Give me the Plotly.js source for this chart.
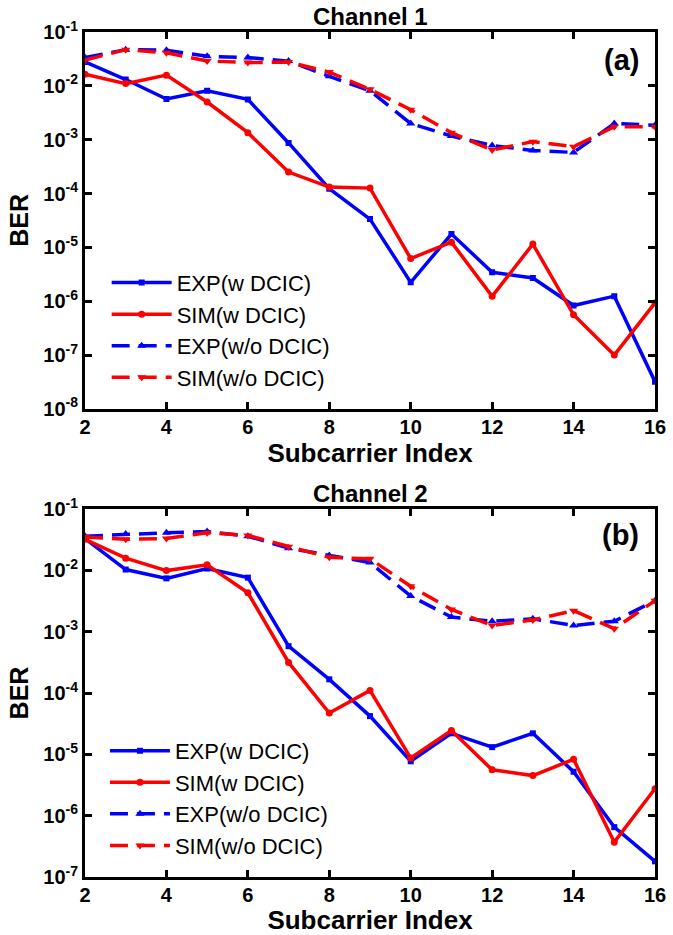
<!DOCTYPE html>
<html>
<head>
<meta charset="utf-8">
<script src="https://cdn.plot.ly/plotly-3.0.1.min.js"></script>
<style>html,body{margin:0;padding:0;background:#fff;}#chart{width:673px;height:935px;}</style>
</head>
<body>
<div id="chart"></div>
<script>
// Subcarrier index
const subcarriers = [2,3,4,5,6,7,8,9,10,11,12,13,14,15,16];

// Channel 1
const ch1_exp_w  = [0.0278,0.0131,0.0057,0.0081,0.0056,8.7e-4,1.23e-4,3.35e-5,2.24e-6,1.77e-5,3.45e-6,2.7e-6,8.3e-7,1.24e-6,3.2e-8];
const ch1_sim_w  = [0.0165,0.011,0.0158,0.005,1.35e-3,2.5e-4,1.32e-4,1.26e-4,6.2e-6,1.25e-5,1.23e-6,1.15e-5,5.6e-7,1.0e-7,9.3e-7];
const ch1_exp_wo = [0.0335,0.047,0.046,0.0354,0.0335,0.0288,0.015,0.0081,2.0e-3,1.17e-3,7.8e-4,6.3e-4,5.8e-4,2.0e-3,1.85e-3];
const ch1_sim_wo = [0.030,0.047,0.041,0.029,0.027,0.0277,0.018,0.0086,3.6e-3,1.35e-3,6.4e-4,9.2e-4,7.4e-4,1.74e-3,1.74e-3];

// Channel 2
const ch2_exp_w  = [0.033,0.0103,0.0074,0.0107,0.0076,5.8e-4,1.67e-4,4.2e-5,7.7e-6,2.2e-5,1.31e-5,2.2e-5,5.2e-6,6.5e-7,1.8e-7];
const ch2_sim_w  = [0.032,0.0158,0.0099,0.0123,4.3e-3,3.15e-4,4.7e-5,1.1e-4,8.7e-6,2.45e-5,5.6e-6,4.5e-6,8.3e-6,3.7e-7,2.75e-6];
const ch2_exp_wo = [0.036,0.039,0.041,0.043,0.036,0.023,0.0174,0.0134,3.8e-3,1.73e-3,1.48e-3,1.62e-3,1.26e-3,1.48e-3,3.2e-3];
const ch2_sim_wo = [0.035,0.032,0.033,0.041,0.037,0.0243,0.0163,0.0154,5.5e-3,2.3e-3,1.26e-3,1.55e-3,2.2e-3,1.12e-3,3.2e-3];

const seriesNames = ['EXP(w DCIC)','SIM(w DCIC)','EXP(w/o DCIC)','SIM(w/o DCIC)'];
const panelTitles = ['Channel 1','Channel 2'];
const panelLabels = ['(a)','(b)'];
const xTitle = 'Subcarrier Index';
const yTitle = 'BER';
const xTickVals = [2,4,6,8,10,12,14,16];
const xTickText = ['2','4','6','8','10','12','14','16'];
const yTickVals1 = [1e-8,1e-7,1e-6,1e-5,1e-4,1e-3,1e-2,1e-1];
const yTickExp1 = ['-8','-7','-6','-5','-4','-3','-2','-1'];
const yTickVals2 = [1e-7,1e-6,1e-5,1e-4,1e-3,1e-2,1e-1];
const yTickExp2 = ['-7','-6','-5','-4','-3','-2','-1'];

const BLUE = '#0000ff', RED = '#ff0000';
const styles = [
  {color: BLUE, dash: 'solid', symbol: 'square', size: 6},
  {color: RED,  dash: 'solid', symbol: 'circle', size: 7},
  {color: BLUE, dash: '18px,9px', symbol: 'triangle-up', size: 8},
  {color: RED,  dash: '18px,9px', symbol: 'triangle-down', size: 8}
];

function mk(y, i, xa, ya, lg) {
  const s = styles[i];
  return {
    x: subcarriers, y: y, type: 'scatter', mode: 'lines+markers',
    name: seriesNames[i], xaxis: xa, yaxis: ya, legend: lg,
    line: {color: s.color, width: 3.5, dash: s.dash},
    marker: {color: s.color, symbol: s.symbol, size: s.size},
    cliponaxis: true
  };
}

const traces = [
  mk(ch1_exp_w, 0, 'x', 'y', 'legend'),
  mk(ch1_sim_w, 1, 'x', 'y', 'legend'),
  mk(ch1_exp_wo, 2, 'x', 'y', 'legend'),
  mk(ch1_sim_wo, 3, 'x', 'y', 'legend'),
  mk(ch2_exp_w, 0, 'x2', 'y2', 'legend2'),
  mk(ch2_sim_w, 1, 'x2', 'y2', 'legend2'),
  mk(ch2_exp_wo, 2, 'x2', 'y2', 'legend2'),
  mk(ch2_sim_wo, 3, 'x2', 'y2', 'legend2')
];

const FONT = 'Liberation Sans, Arial, sans-serif';
const tickFont = {family: FONT, size: 20, color: '#000', weight: 'bold'};
const xTitleFont = {family: FONT, size: 26, color: '#000', weight: 'bold'};
const yTitleFont = {family: FONT, size: 25, color: '#000', weight: 'bold'};

const bold = s => '<b>' + s + '</b>';
const pow10 = e => '<b>10<sup>' + e + '</sup></b>';

function xaxis(anchor) {
  return {
    anchor: anchor, range: [2,16], tickvals: xTickVals, ticktext: xTickText.map(bold),
    ticks: 'inside', ticklen: 7, tickwidth: 3, tickcolor: '#000',
    showline: true, linewidth: 3, linecolor: '#000', mirror: 'ticks',
    showgrid: false, zeroline: false, tickfont: tickFont, ticklabelstandoff: -2,
    title: {text: bold(xTitle), font: xTitleFont, standoff: 2}
  };
}
function yaxis(anchor, range, vals, exps, domain) {
  return {
    anchor: anchor, type: 'log', range: range, domain: domain,
    tickvals: vals, ticktext: exps.map(pow10),
    ticks: 'inside', ticklen: 7, tickwidth: 3, tickcolor: '#000',
    showline: true, linewidth: 3, linecolor: '#000', mirror: 'ticks',
    showgrid: false, zeroline: false, tickfont: tickFont,
    title: {text: bold(yTitle), font: yTitleFont, standoff: 8}
  };
}

const legendCommon = {
  font: {family: FONT, size: 22, color: '#000'},
  bgcolor: 'rgba(0,0,0,0)', borderwidth: 0, itemwidth: 60,
  tracegroupgap: 0, xanchor: 'left', yanchor: 'bottom', xref: 'paper', yref: 'paper'
};

const layout = {
  width: 673, height: 935,
  paper_bgcolor: '#fff', plot_bgcolor: '#fff',
  margin: {l: 85, r: 18, t: 32, b: 58},
  showlegend: true,
  xaxis: xaxis('y'),
  yaxis: yaxis('x', [-8,-1], yTickVals1, yTickExp1, [0.554, 1]),
  xaxis2: xaxis('y2'),
  yaxis2: yaxis('x2', [-7,-1], yTickVals2, yTickExp2, [0, 0.4355]),
  legend: Object.assign({}, legendCommon, {x: 0.038, y: 0.554 + 0.012}),
  legend2: Object.assign({}, legendCommon, {x: 0.035, y: 0.012}),
  annotations: [
    {text: bold(panelTitles[0]), xref: 'x domain', yref: 'y domain', x: 0.5, y: 1, yanchor: 'bottom', yshift: 0, showarrow: false, font: {family: FONT, size: 24, color: '#000'}},
    {text: bold(panelTitles[1]), xref: 'x2 domain', yref: 'y2 domain', x: 0.5, y: 1, yanchor: 'bottom', yshift: 0, showarrow: false, font: {family: FONT, size: 24, color: '#000'}},
    {text: bold(panelLabels[0]), xref: 'x domain', yref: 'y domain', x: 0.975, y: 0.925, xanchor: 'right', yanchor: 'middle', showarrow: false, font: {family: FONT, size: 29, color: '#000'}},
    {text: bold(panelLabels[1]), xref: 'x2 domain', yref: 'y2 domain', x: 0.975, y: 0.93, xanchor: 'right', yanchor: 'middle', showarrow: false, font: {family: FONT, size: 29, color: '#000'}}
  ]
};

Plotly.newPlot('chart', traces, layout, {staticPlot: true, displayModeBar: false});
</script>
</body>
</html>
